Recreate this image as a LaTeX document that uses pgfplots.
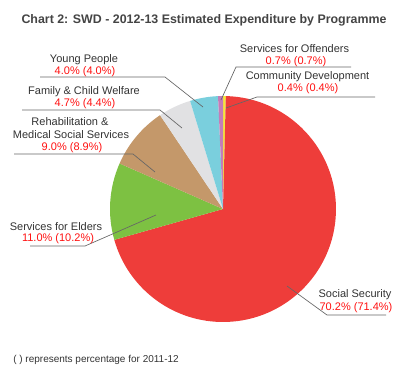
\documentclass[border=0pt]{standalone}
\usepackage{pgfplots}
\pgfplotsset{compat=1.18}
\usepackage{fontspec}
\setmainfont{Liberation Sans}
\definecolor{cSS}{HTML}{EE3D3A}
\definecolor{cEL}{HTML}{7DC142}
\definecolor{cRH}{HTML}{C4986A}
\definecolor{cFC}{HTML}{E1E1E3}
\definecolor{cYP}{HTML}{7ACFDD}
\definecolor{cOF}{HTML}{C47DB8}
\definecolor{cCD}{HTML}{F5E83A}
\definecolor{txt}{HTML}{333333}
\definecolor{ttl}{HTML}{444444}
\definecolor{pct}{HTML}{FF1010}
\definecolor{lc}{HTML}{666666}
\newcommand{\lbl}{\fontsize{8.25}{9.9}\selectfont}
% slice: cumulative start percent, cumulative end percent (clockwise from 12 o'clock)
\newcommand{\pieslice}[3]{\fill[#3] (axis cs:223,209) -- ++({90-3.6*#1}:84.75pt) arc[start angle={90-3.6*#1}, end angle={90-3.6*#2}, radius=84.75pt] -- cycle;}
\begin{document}
\begin{tikzpicture}
\begin{axis}[x=0.75pt,y=0.75pt,y dir=reverse,xmin=0,xmax=408,ymin=0,ymax=390,hide axis,clip=false]
\path (axis cs:0,0) rectangle (axis cs:408,390);
% values: CD 0.4, SS 70.2, Elders 11.0, Rehab 9.0, Family 4.7, Young 4.0, Offenders 0.7
\pieslice{0}{0.4}{cCD}
\pieslice{0.4}{70.6}{cSS}
\pieslice{70.6}{81.6}{cEL}
\pieslice{81.6}{90.6}{cRH}
\pieslice{90.6}{95.3}{cFC}
\pieslice{95.3}{99.3}{cYP}
\pieslice{99.3}{100}{cOF}
% leader lines
\addplot[lc, line width=0.5pt, no marks] coordinates {(203,107) (165,77) (40,77)};
\addplot[lc, line width=0.5pt, no marks] coordinates {(182,128) (160,110) (22,110)};
\addplot[lc, line width=0.5pt, no marks] coordinates {(155,172) (133,154) (14,154)};
\addplot[lc, line width=0.5pt, no marks] coordinates {(156,215) (85,246) (30,246)};
\addplot[lc, line width=0.5pt, no marks] coordinates {(287,286) (327,315) (386,315)};
\addplot[lc, line width=0.5pt, no marks] coordinates {(221,100) (236,67) (351,67)};
\addplot[lc, line width=0.5pt, no marks] coordinates {(226,108) (257,97) (375,97)};
% title
\node[font=\fontsize{9.3}{11}\selectfont\bfseries, text=ttl] at (axis cs:204,20) {Chart 2: SWD - 2012-13 Estimated Expenditure by Programme};
% labels
\node[font=\lbl, text=txt] at (axis cs:84,60) {Young People};
\node[font=\lbl, text=pct] at (axis cs:85,72) {4.0\% (4.0\%)};
\node[font=\lbl, text=txt] at (axis cs:84,92) {Family \& Child Welfare};
\node[font=\lbl, text=pct] at (axis cs:85,104) {4.7\% (4.4\%)};
\node[font=\lbl, text=txt] at (axis cs:70,122) {Rehabilitation \&};
\node[font=\lbl, text=txt] at (axis cs:71,135) {Medical Social Services};
\node[font=\lbl, text=pct] at (axis cs:72,148) {9.0\% (8.9\%)};
\node[font=\lbl, text=txt] at (axis cs:56,227) {Services for Elders};
\node[font=\lbl, text=pct] at (axis cs:58,239) {11.0\% (10.2\%)};
\node[font=\lbl, text=txt] at (axis cs:355,295) {Social Security};
\node[font=\lbl, text=pct] at (axis cs:356,308) {70.2\% (71.4\%)};
\node[font=\lbl, text=txt] at (axis cs:294.5,49) {Services for Offenders};
\node[font=\lbl, text=pct] at (axis cs:296,62) {0.7\% (0.7\%)};
\node[font=\lbl, text=txt] at (axis cs:307.5,77) {Community Development};
\node[font=\lbl, text=pct] at (axis cs:308,89) {0.4\% (0.4\%)};
\node[font=\fontsize{7.5}{9}\selectfont, text=txt, anchor=west, inner sep=0pt] at (axis cs:13,360) {( ) represents percentage for 2011-12};
\end{axis}
\end{tikzpicture}
\end{document}
